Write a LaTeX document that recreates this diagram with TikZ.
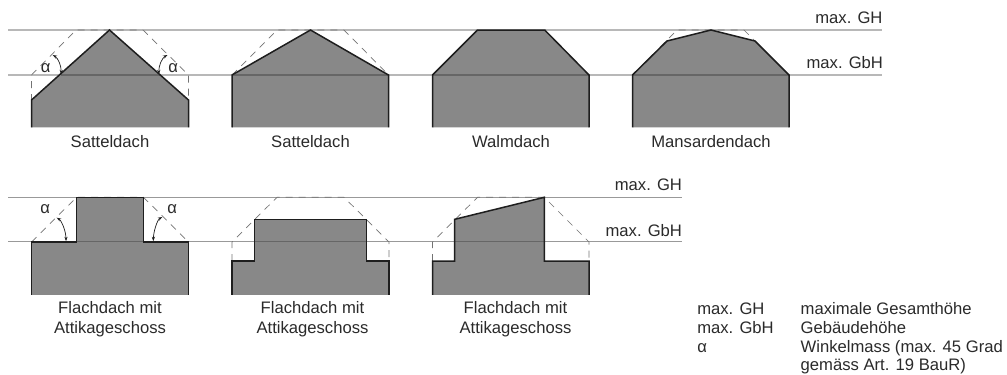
\documentclass[tikz,border=0pt]{standalone}
\usepackage{fontspec}
\setmainfont{Liberation Sans}
\usetikzlibrary{arrows.meta}
\definecolor{housefill}{HTML}{888888}
\definecolor{inkc}{HTML}{1E1E1E}
\definecolor{textc}{HTML}{2A2A2A}
\tikzset{
  x=1bp,y=-1bp,
  lvlA/.style={draw=black!28,line width=1.4bp},
  lvlB/.style={draw=black!40,line width=1bp},
  inner/.style={draw=black!60,line width=1.2bp},
  house/.style={fill=housefill,draw=none},
  edge/.style={draw=inkc,line width=1.5bp,line join=miter},
  guide/.style={draw=black!55,line width=0.7bp,dash pattern=on 7bp off 6bp},
  ang/.style={draw=inkc,line width=0.7bp,{Stealth[length=4.5bp,width=3.2bp]}-{Stealth[length=4.5bp,width=3.2bp]}},
  lab/.style={inner sep=0pt,outer sep=0pt,anchor=base,text=textc,font=\fontsize{16.7}{19.4}\selectfont},
  labr/.style={lab,anchor=base east},
  labl/.style={lab,anchor=base west},
  labm/.style={lab,align=center},
}
\begin{document}
\begin{tikzpicture}
\useasboundingbox (0,0) rectangle (1007,374);
% level lines
\coordinate (ga1) at (8,30); \coordinate (ga2) at (882,30);
\coordinate (gb1) at (8,75); \coordinate (gb2) at (882,75);
\coordinate (ha1) at (8,197.3); \coordinate (ha2) at (682,197.3);
\coordinate (hb1) at (8,241.8); \coordinate (hb2) at (682,241.8);
\draw[lvlA] (ga1) -- (ga2);
\draw[lvlA] (gb1) -- (gb2);
\draw[lvlB] (ha1) -- (ha2);
\draw[lvlB] (hb1) -- (hb2);
% guides
\draw[guide] (31.5,127) -- (31.5,75) -- (76,30) -- (143,30) -- (188.5,75) -- (188.5,127);
\draw[guide] (232,75) -- (277,30) -- (344,30) -- (388.5,75);
\draw[guide] (632.5,75) -- (677,30) -- (744,30) -- (789,75);
\draw[guide] (31.5,242) -- (76.5,197.3) -- (143.5,197.3) -- (188.5,242);
\draw[guide] (232,261) -- (232,242) -- (277,197.3) -- (344,197.3) -- (389,242) -- (389,261);
\draw[guide] (432.5,261) -- (432.5,242) -- (477.5,197.3) -- (544.3,197.3) -- (589,242) -- (589,261);
% fills
\fill[house] (31.5,127.3) -- (31.5,100) -- (109.5,30) -- (188.5,100) -- (188.5,127.3) -- cycle;
\fill[house] (232,127.3) -- (232,75) -- (310.5,30) -- (388.5,75) -- (388.5,127.3) -- cycle;
\fill[house] (432.5,127.3) -- (432.5,75) -- (477.5,30) -- (544.7,30) -- (589,75) -- (589,127.3) -- cycle;
\fill[house] (632.5,127.3) -- (632.5,75) -- (667,41) -- (711,30) -- (755,41) -- (789,75) -- (789,127.3) -- cycle;
\fill[house] (31.5,294.8) -- (31.5,242) -- (76.5,242) -- (76.5,197.3) -- (143.5,197.3) -- (143.5,242) -- (188.5,242) -- (188.5,294.8) -- cycle;
\fill[house] (232,294.8) -- (232,261) -- (254.7,261) -- (254.7,219.3) -- (366.5,219.3) -- (366.5,261) -- (389,261) -- (389,294.8) -- cycle;
\fill[house] (432.5,294.8) -- (432.5,261) -- (454.7,261) -- (454.7,219.3) -- (544.3,197.3) -- (544.3,261) -- (589,261) -- (589,294.8) -- cycle;
% level lines across the houses
\draw[inner] (60.5,75) -- (160,75);
\draw[inner] (232,75) -- (388.5,75);
\draw[inner] (432.5,75) -- (589,75);
\draw[inner] (632.5,75) -- (789,75);
\draw[inner] (76.5,241.8) -- (143.5,241.8);
\draw[inner] (254.7,241.8) -- (366.5,241.8);
\draw[inner] (454.7,241.8) -- (544.3,241.8);
% outlines
\draw[edge] (31.5,127.3) -- (31.5,100) -- (109.5,30) -- (188.5,100) -- (188.5,127.3);
\draw[edge] (232,127.3) -- (232,75) -- (310.5,30) -- (388.5,75) -- (388.5,127.3);
\draw[edge] (432.5,127.3) -- (432.5,75) -- (477.5,30) -- (544.7,30) -- (589,75) -- (589,127.3);
\draw[edge] (632.5,127.3) -- (632.5,75) -- (667,41) -- (711,30) -- (755,41) -- (789,75) -- (789,127.3);
\draw[edge] (31.5,294.8) -- (31.5,242) -- (76.5,242) -- (76.5,197.3) -- (143.5,197.3) -- (143.5,242) -- (188.5,242) -- (188.5,294.8);
\draw[edge] (232,294.8) -- (232,261) -- (254.7,261) -- (254.7,219.3) -- (366.5,219.3) -- (366.5,261) -- (389,261) -- (389,294.8);
\draw[edge] (432.5,294.8) -- (432.5,261) -- (454.7,261) -- (454.7,219.3) -- (544.3,197.3) -- (544.3,261) -- (589,261) -- (589,294.8);
% angle arcs
\coordinate (a1s) at (52.7,55); \coordinate (a1e) at (61,74.3);
\coordinate (a2s) at (167.5,55); \coordinate (a2e) at (159,74.3);
\coordinate (a3s) at (56.7,217.7); \coordinate (a3e) at (66,241.2);
\coordinate (a4s) at (162.3,217); \coordinate (a4e) at (153.3,241.2);
\draw[ang] (a1s) .. controls (58,58) and (61.5,66) .. (a1e);
\draw[ang] (a2s) .. controls (162,58) and (158.5,66) .. (a2e);
\draw[ang] (a3s) .. controls (62,221) and (66,232) .. (a3e);
\draw[ang] (a4s) .. controls (157,220) and (153.5,232) .. (a4e);
% alpha labels
\node[lab] (al1) at (45.7,72.7) {α};
\node[lab] (al2) at (173.3,72.7) {α};
\node[lab] (al3) at (45.3,213.3) {α};
\node[lab] (al4) at (172.3,213.3) {α};
% level labels
\node[labr] (tGH) at (882.5,23.3) {max. GH};
\node[labr] (tGbH) at (883,68.3) {max. GbH};
\node[labr] (bGH) at (682,190.7) {max. GH};
\node[labr] (bGbH) at (682,236) {max. GbH};
% captions
\node[lab] (c1) at (110,147.3) {Satteldach};
\node[lab] (c2) at (310.5,147.3) {Satteldach};
\node[lab] (c3) at (511,147.3) {Walmdach};
\node[lab] (c4) at (711,147.3) {Mansardendach};
\node[labm] (c5) at (110,333.3) {Flachdach mit\\Attikageschoss};
\node[labm] (c6) at (312.5,333.3) {Flachdach mit\\Attikageschoss};
\node[labm] (c7) at (515.5,333.3) {Flachdach mit\\Attikageschoss};
% legend
\node[labl] (l1) at (697.3,314) {max. GH};
\node[labl] (l2) at (697.3,333) {max. GbH};
\node[labl] (l3) at (697.3,352) {α};
\node[labl] (r1) at (800.7,314) {maximale Gesamthöhe};
\node[labl] (r2) at (800.7,333) {Gebäudehöhe};
\node[labl] (r3) at (800.7,352) {Winkelmass (max. 45 Grad};
\node[labl] (r4) at (800.7,370) {gemäss Art. 19 BauR)};
\end{tikzpicture}
\end{document}
